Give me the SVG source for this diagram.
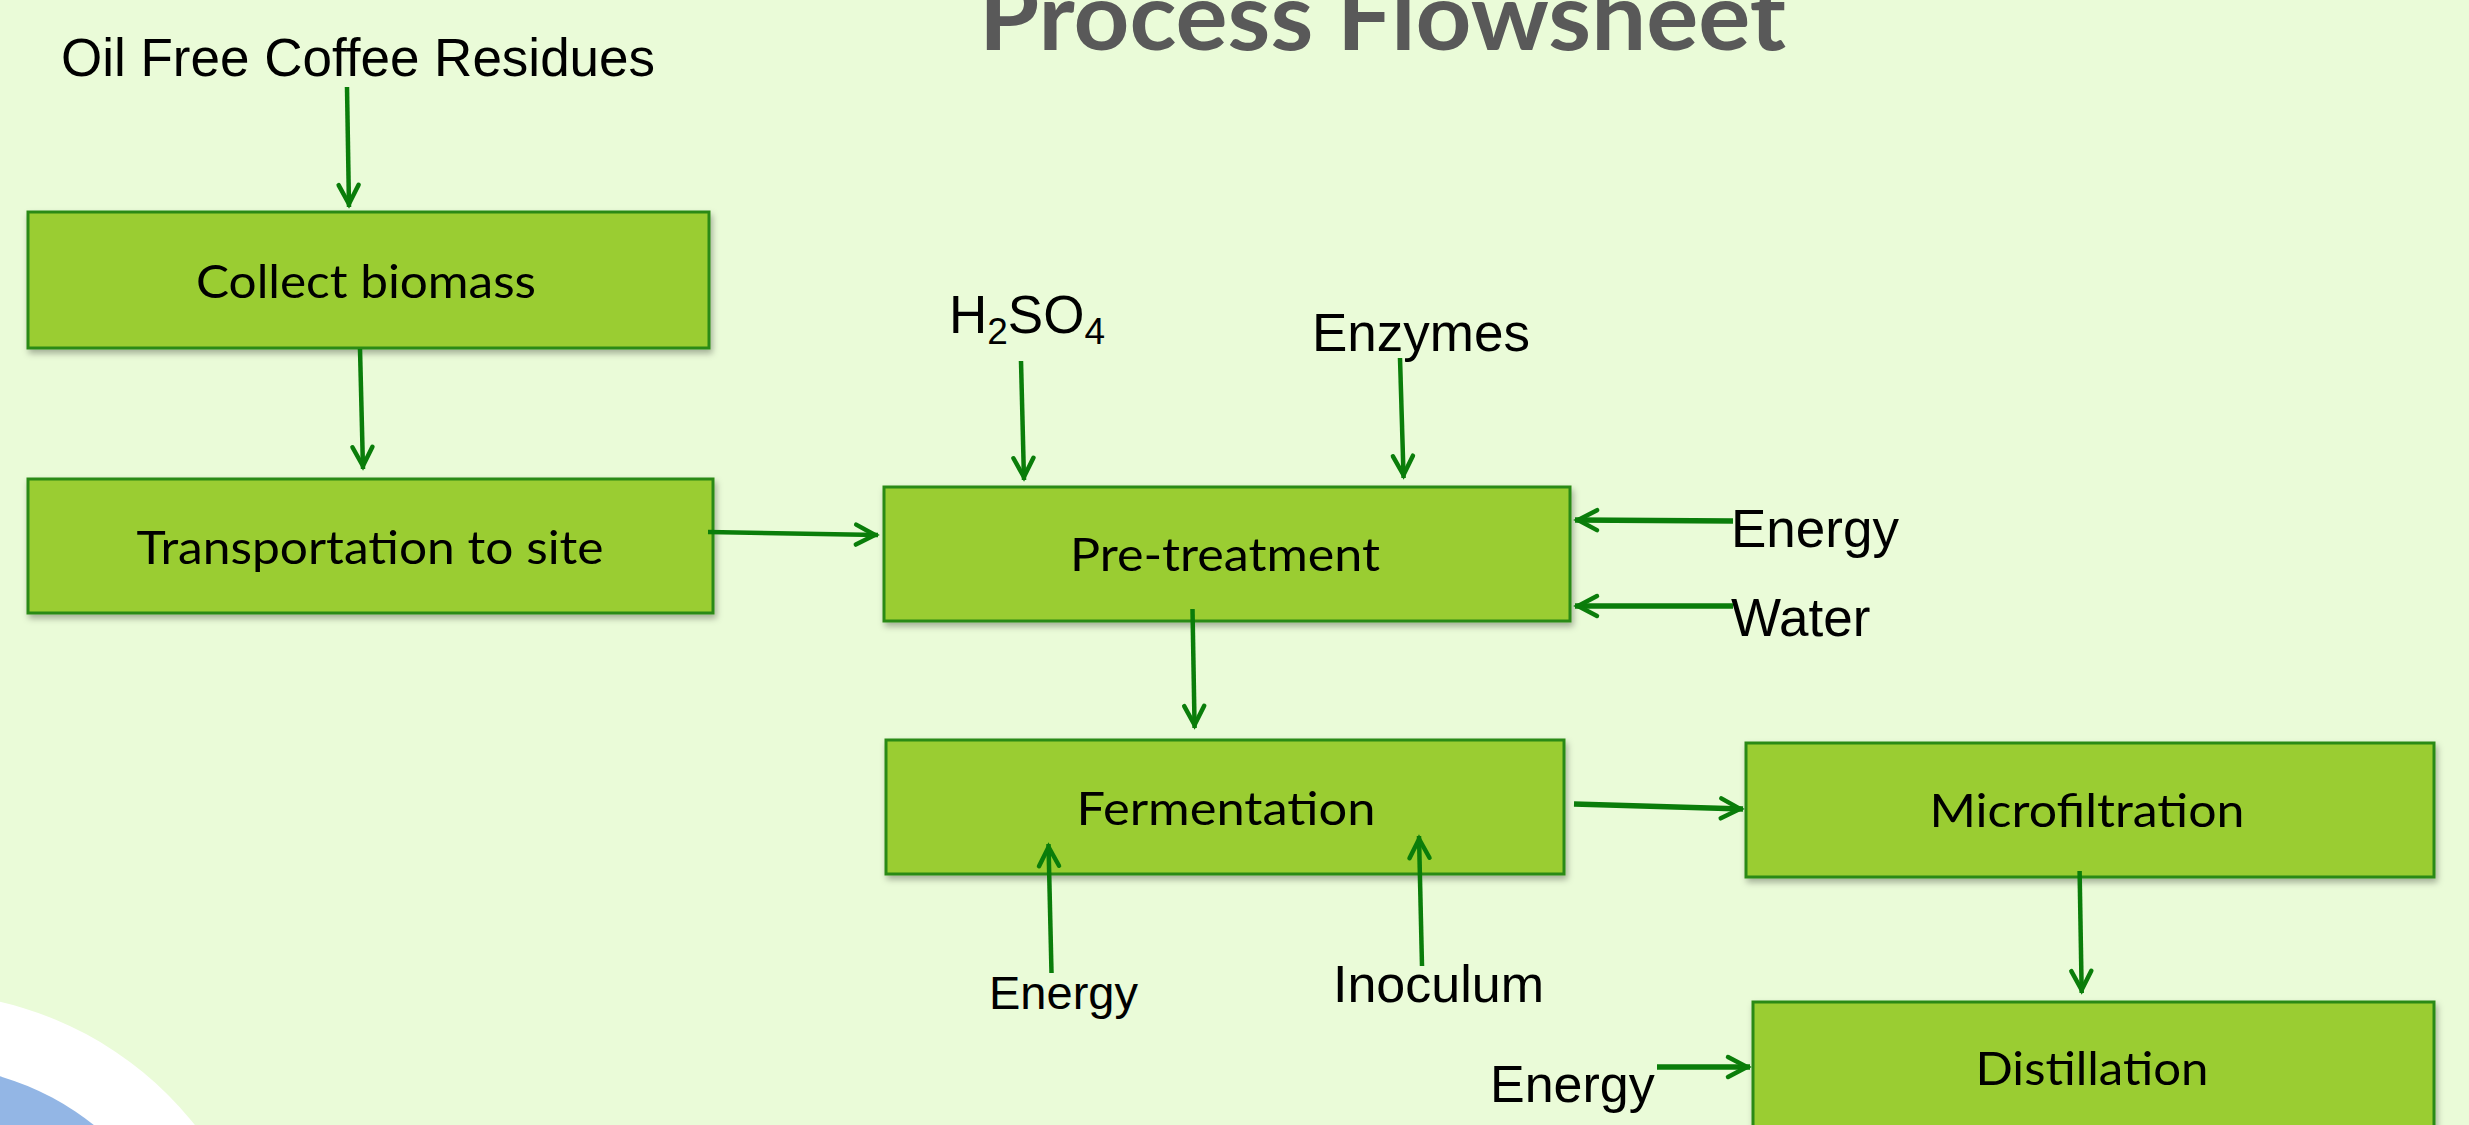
<svg xmlns="http://www.w3.org/2000/svg" width="2469" height="1125" viewBox="0 0 2469 1125">
  <style>
    .box { fill: #9acd32; stroke: #2b8a17; stroke-width: 3; }
    .lbl { font-family: Lato, "Open Sans", "Liberation Sans", sans-serif; font-size: 46px; fill: #000; text-anchor: middle; }
    .in { font-family: "Liberation Sans", Arial, sans-serif; font-size: 53px; fill: #000; }
    .c { stroke: #0a7d0a; stroke-width: 4.5; fill: none; marker-end: url(#ah); }
    .ct { stroke-width: 5.5; }
    .title { font-family: Lato, "Open Sans", sans-serif; font-weight: bold; font-size: 93px; fill: #595959; }
  </style>
  <defs>
    <marker id="ah" viewBox="0 0 30 24" markerWidth="30" markerHeight="24" refX="27" refY="12" orient="auto" markerUnits="userSpaceOnUse" overflow="visible">
      <path d="M5,2 L24,12 L5,22" fill="none" stroke="#0a7d0a" stroke-width="4.5" stroke-linecap="round" stroke-linejoin="miter"/>
    </marker>
    <filter id="sh" x="-5%" y="-10%" width="110%" height="130%">
      <feDropShadow dx="2" dy="4" stdDeviation="3" flood-color="#000" flood-opacity="0.3"/>
    </filter>
  </defs>

  <rect x="0" y="0" width="2469" height="1125" fill="#eafbd8"/>
  <g id="decoration">
    <circle cx="-78" cy="1341" r="348" fill="#ffffff"/>
    <circle cx="-78" cy="1341" r="276" fill="#93b6e5"/>
  </g>

  <text id="title" class="title" x="979" y="50" textLength="807" lengthAdjust="spacingAndGlyphs">Process Flowsheet</text>

  <g id="inputs">
    <text id="in-coffee" class="in" x="61" y="76">Oil Free Coffee Residues</text>
    <text id="in-h2so4" class="in" x="949" y="333">H<tspan font-size="37" dy="11">2</tspan><tspan dy="-11">SO</tspan><tspan font-size="37" dy="11">4</tspan></text>
    <text id="in-enzymes" class="in" x="1312" y="351">Enzymes</text>
    <text id="in-energy1" class="in" x="1731" y="547">Energy</text>
    <text id="in-water" class="in" x="1731" y="636">Water</text>
    <text id="in-energy2" class="in" x="989" y="1009" style="font-size:47px">Energy</text>
    <text id="in-inoculum" class="in" x="1333" y="1002" style="font-size:52px">Inoculum</text>
    <text id="in-energy3" class="in" x="1490" y="1102" style="font-size:52px">Energy</text>
  </g>

  <g id="node-collect" filter="url(#sh)">
    <rect class="box" x="28" y="212" width="681" height="136"/>
    <text class="lbl" x="366" y="298" textLength="340" lengthAdjust="spacingAndGlyphs">Collect biomass</text>
  </g>
  <g id="node-transport" filter="url(#sh)">
    <rect class="box" x="28" y="479" width="685" height="134"/>
    <text class="lbl" x="370" y="564" textLength="467" lengthAdjust="spacingAndGlyphs">Transportation to site</text>
  </g>
  <g id="node-pretreatment" filter="url(#sh)">
    <rect class="box" x="884" y="487" width="686" height="134"/>
    <text class="lbl" x="1225" y="571" textLength="310" lengthAdjust="spacingAndGlyphs">Pre-treatment</text>
  </g>
  <g id="node-fermentation" filter="url(#sh)">
    <rect class="box" x="886" y="740" width="678" height="134"/>
    <text class="lbl" x="1226" y="825" textLength="299" lengthAdjust="spacingAndGlyphs">Fermentation</text>
  </g>
  <g id="node-microfiltration" filter="url(#sh)">
    <rect class="box" x="1746" y="743" width="688" height="134"/>
    <text class="lbl" x="2087" y="827" textLength="315" lengthAdjust="spacingAndGlyphs">Microfiltration</text>
  </g>
  <g id="node-distillation" filter="url(#sh)">
    <rect class="box" x="1753" y="1002" width="681" height="134"/>
    <text class="lbl" x="2092" y="1085" textLength="233" lengthAdjust="spacingAndGlyphs">Distillation</text>
  </g>

  <g id="connectors">
    <path class="c" d="M347,87 L349,207"/>
    <path class="c" d="M360,349 L363,469"/>
    <path class="c" d="M708,532 L878,535"/>
    <path class="c" d="M1021,361 L1024,480"/>
    <path class="c" d="M1400,358 L1403.6,478"/>
    <path class="c ct" d="M1733,521 L1575,520"/>
    <path class="c ct" d="M1733,606 L1575,606"/>
    <path class="c" d="M1192.5,609 L1194.6,728"/>
    <path class="c" d="M1051.5,973 L1048.5,844"/>
    <path class="c" d="M1422,966 L1419,836"/>
    <path class="c ct" d="M1574,804 L1743,809"/>
    <path class="c" d="M2079.6,871 L2081.7,993"/>
    <path class="c ct" d="M1657,1067 L1750,1067"/>
  </g>
</svg>
